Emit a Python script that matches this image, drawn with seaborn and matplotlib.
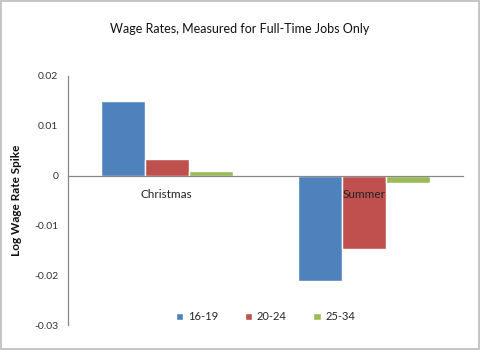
import numpy as np
import pandas as pd
import matplotlib
matplotlib.use("Agg")
import matplotlib.pyplot as plt
from matplotlib.patches import Rectangle
import seaborn as sns

# ── Data ──────────────────────────────────────────────────────────────────────
seasons = ["Christmas", "Summer"]
age_groups = ["16-19", "20-24", "25-34"]
spike_16_19 = [0.0150, -0.0211]
spike_20_24 = [0.0033, -0.0147]
spike_25_34 = [0.0010, -0.0014]

colors = ["#4F81BD", "#C0504D", "#9BBB59"]

rows = []
for grp, vals in zip(age_groups, [spike_16_19, spike_20_24, spike_25_34]):
    for s, v in zip(seasons, vals):
        rows.append({"Season": s, "Age": grp, "Spike": v})
df = pd.DataFrame(rows)

# ── Figure ────────────────────────────────────────────────────────────────────
sns.set_theme(style="white")
plt.rcParams["font.family"] = ["Lato", "DejaVu Sans"]

fig = plt.figure(figsize=(4.8, 3.5), dpi=100)
ax = fig.add_axes([0.1417, 0.0714, 0.823, 0.7115])

sns.barplot(data=df, x="Season", y="Spike", hue="Age", order=seasons,
            hue_order=age_groups, palette=colors, width=0.67,
            saturation=1, ax=ax)
for p in ax.patches:
    p.set_zorder(1)

ax.set_xlim(-0.5, 1.5)
ax.set_ylim(-0.03, 0.02)
ax.set_yticks([0.02, 0.01, 0, -0.01, -0.02, -0.03])
ax.set_yticklabels(["0.02", "0.01", "0", "-0.01", "-0.02", "-0.03"])
ax.tick_params(axis="y", direction="out", length=4, width=0.8,
               color="#888888", labelsize=7.5, labelcolor="#333333", pad=3)

# category axis sits on zero, labels drawn over the bars
for side in ("top", "right"):
    ax.spines[side].set_visible(False)
ax.spines["bottom"].set_position(("data", 0))
for side in ("left", "bottom"):
    ax.spines[side].set_color("#888888")
    ax.spines[side].set_linewidth(0.9)
    ax.spines[side].set_zorder(4)
ax.xaxis.set_zorder(5)
ax.set_xticks([0.5, 1.5], minor=True)
ax.tick_params(axis="x", which="minor", direction="in", length=4,
               color="#888888", width=0.8)
ax.tick_params(axis="x", which="major", length=0, labelsize=8.5,
               labelcolor="#222222", pad=10)

ax.set_xlabel("")
ax.set_ylabel("Log Wage Rate Spike", fontsize=8.5, fontweight="bold",
              color="#111111", labelpad=9)
fig.suptitle("Wage Rates, Measured for Full-Time Jobs Only", fontsize=9,
             color="#111111", y=0.935)

ax.legend(loc="lower center", bbox_to_anchor=(0.5, -0.03), ncol=3,
          frameon=False, fontsize=8, handlelength=0.7, handleheight=0.7,
          columnspacing=2.4, handletextpad=0.4)

fig.patches.append(Rectangle((0.002, 0.003), 0.996, 0.994,
                             transform=fig.transFigure, fill=False,
                             edgecolor="#BBBBBB", linewidth=1.2))

fig.savefig("out.png", dpi=100)
